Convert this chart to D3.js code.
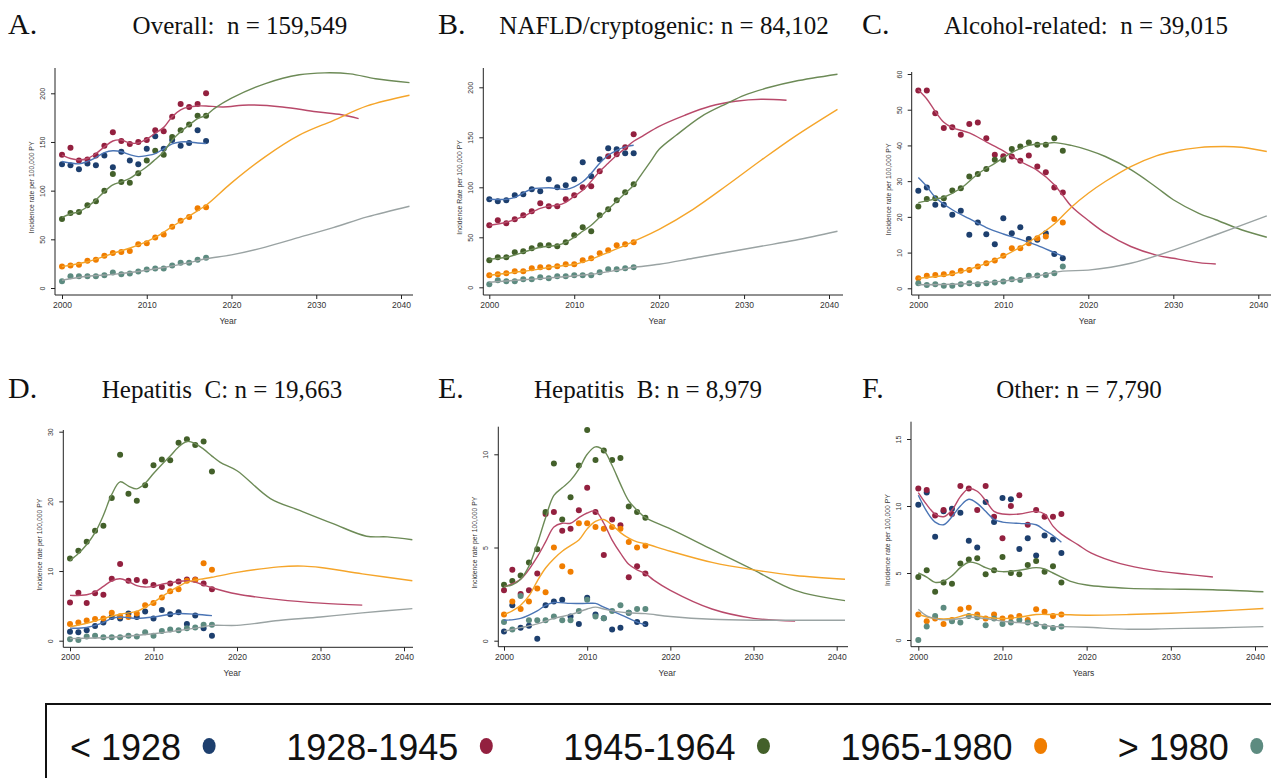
<!DOCTYPE html>
<html>
<head>
<meta charset="utf-8">
<script src="https://cdn.jsdelivr.net/npm/d3@7"></script>
<style>
  body { margin: 0; background: #fff; }
  svg { display: block; }
  .tick text { font-family: "Liberation Sans", Arial, sans-serif; fill: #333; }
</style>
</head>
<body>
<div id="chart"></div>
<script>
// Birth cohorts (legend) and their colours
var cohorts = ["< 1928", "1928-1945", "1945-1964", "1965-1980", "> 1980"];
var dotColors = ["#1d3f6e", "#93203f", "#43602a", "#f07d00", "#5d8b80"];
var lineColors = ["#4b75b5", "#b8496a", "#6c8a56", "#f5a52a", "#9aa3a3"];

// observed years for the dots
var obsYears = [2000, 2001, 2002, 2003, 2004, 2005, 2006, 2007, 2008, 2009,
                2010, 2011, 2012, 2013, 2014, 2015, 2016, 2017];
var xTickYears = [2000, 2010, 2020, 2030, 2040];

// ---- A. Overall ----
var overallObs = [
  [127, 126, 122, 128, 126, 136, 124, 140, 131, 127, 143, 156, 143, 152, 146, 149, 162, 151],
  [137, 144, 131, 132, 136, 146, 160, 151, 148, 150, 152, 162, 161, 176, 189, 186, 189, 200],
  [71, 77, 78, 85, 89, 100, 117, 109, 108, 118, 131, 141, 137, 155, 162, 168, 177, 177],
  [22, 23, 24, 28, 29, 33, 36, 37, 38, 45, 46, 52, 55, 63, 69, 73, 82, 83],
  [7, 12, 12, 12, 12, 13, 16, 14, 15, 17, 19, 20, 20, 23, 26, 26, 29, 31]
];
var overallFit = [
  [[2000,130],[2001,128.5],[2002,127.5],[2003,130],[2004,134],[2005,139],[2006,141],[2007,140],[2008,137],[2009,135],[2010,136],[2011,138],[2012,143],[2013,148],[2014,150],[2015,150],[2016,149],[2017,148.5]],
  [[2000,136.5],[2001,133],[2002,131.5],[2003,133],[2004,138],[2005,145],[2006,151],[2007,152],[2008,149],[2009,149],[2010,153],[2011,159],[2012,165],[2013,176],[2014,183],[2015,186],[2016,187],[2017,187],[2019,186],[2022,188],[2026,186],[2030,181],[2033,178],[2035,174]],
  [[2000,72.5],[2001,76],[2002,78.5],[2003,83.5],[2004,90.5],[2005,99],[2006,106],[2007,109],[2008,112.5],[2009,118.5],[2010,124.5],[2011,132],[2012,140],[2013,152],[2014,160.5],[2015,167.5],[2016,174],[2017,177.5],[2018,184.5],[2020,195],[2024,210],[2028,219],[2031,221],[2034,220],[2037,215],[2041,211]],
  [[2000,22],[2003,27],[2006,35.5],[2009,44],[2011,52],[2013,63],[2015,74],[2017,85],[2020,108],[2024,135],[2028,157],[2032,172],[2036,187],[2041,198]],
  [[2000,8],[2003,12],[2006,14],[2009,17],[2012,21],[2015,26],[2017,30],[2020,34],[2024,42],[2028,52],[2032,62],[2036,73],[2041,84]]
];

// ---- B. NAFLD/cryptogenic ----
var naflObs = [
  [88, 86, 87, 92, 93, 98, 96, 108, 100, 102, 108, 125, 111, 128, 139, 138, 134, 134],
  [62, 67, 64, 68, 72, 76, 84, 81, 81, 88, 92, 100, 101, 116, 131, 133, 140, 153],
  [27, 30, 30, 35, 36, 39, 42, 42, 41, 45, 52, 60, 56, 72, 78, 87, 95, 103],
  [12, 13, 14, 16, 16, 19, 20, 20, 21, 23, 23, 27, 29, 34, 37, 42, 43, 45],
  [3, 7, 6, 6, 8, 8, 10, 9, 11, 11, 12, 12, 12, 15, 18, 18, 19, 20]
];
var naflFit = [
  [[2000,88],[2002,88],[2003,90],[2005,98],[2007,99.5],[2009,98],[2010,100.5],[2011,105.5],[2012,114],[2013,124],[2014,132],[2015,137],[2016,140.5],[2017,142]],
  [[2000,62],[2002,65],[2004,71],[2006,79],[2007,81],[2008,82],[2009,85],[2010,91],[2011,97],[2012,106],[2013,116],[2014,124],[2015,132],[2016,139],[2017,146],[2018,151],[2020,161],[2023,172],[2026,181],[2029,186],[2032,188],[2035,187]],
  [[2000,28],[2002,30],[2004,35],[2006,40],[2008,42],[2009,45],[2010,50],[2011,56],[2012,62],[2013,70],[2014,78],[2015,86],[2016,94],[2017,102],[2018,114],[2019,126],[2020,138],[2022,152],[2025,171],[2028,184],[2030,192],[2033,200],[2036,206],[2041,213]],
  [[2000,12],[2004,16],[2008,21],[2010,23],[2012,28],[2014,35],[2016,42],[2017,46],[2020,58],[2024,78],[2028,102],[2032,127],[2036,151],[2041,178]],
  [[2000,5],[2004,7.5],[2008,10],[2012,13],[2015,17],[2017,20],[2020,23],[2024,29],[2028,35],[2032,41],[2036,47],[2041,56]]
];

// ---- C. Alcohol-related ----
var alcObs = [
  [27.3, 28.2, 23.4, 23.4, 20.6, 21.7, 15, 18.4, 15.1, 12.3, 19.6, 15.4, 17.1, 13.8, 13.6, 15.4, 9.6, 8.4],
  [55.4, 55.4, 49, 44.9, 45.1, 43, 46, 46.4, 42, 37.4, 37, 36.9, 35.7, 37.2, 34.1, 32.5, 28.2, 26.8],
  [22.9, 25, 25.2, 25.2, 27.4, 28, 31.3, 32, 33.4, 36, 36, 39, 39.7, 40.8, 40.2, 40.2, 42, 38.5],
  [2.8, 3.5, 3.7, 3.9, 4.2, 4.9, 5.1, 6.1, 7, 7.8, 9.1, 11.2, 11.2, 12.6, 14, 14.5, 19.4, 18.4],
  [1.4, 0.9, 1.1, 0.7, 0.7, 1.1, 1.4, 1.1, 1.4, 1.6, 1.9, 2.5, 2.3, 3.5, 3.6, 3.7, 4.2, 6.1]
];
var alcFit = [
  [[2000,31],[2001,28.5],[2002,25.5],[2004,22],[2006,19.5],[2008,17],[2010,15.2],[2012,13.7],[2014,12],[2016,10],[2017,9]],
  [[2000,55.5],[2001,53],[2002,49.5],[2003,46.5],[2004,45],[2006,43.5],[2008,41],[2010,38.5],[2012,35.5],[2014,33],[2016,29],[2017,26],[2018,23],[2020,19],[2022,15.5],[2025,11.7],[2028,9.3],[2030,8.4],[2033,7.2],[2035,6.8]],
  [[2000,24],[2002,25],[2003,25.5],[2005,28],[2007,32],[2009,35],[2011,38],[2013,40],[2015,40.5],[2016,40.8],[2018,40],[2020,38.7],[2022,36.9],[2025,33.2],[2028,28.3],[2030,24.8],[2033,21],[2035,19.2],[2038,16.4],[2041,14.3]],
  [[2000,2.8],[2004,4],[2008,7],[2010,9],[2012,11.5],[2014,14.5],[2016,18],[2018,22.7],[2020,26.6],[2022,29.9],[2025,34.1],[2028,37.1],[2030,38.3],[2033,39.4],[2036,39.7],[2038,39.5],[2041,38.3]],
  [[2000,1],[2005,1.2],[2010,2],[2013,3],[2017,4.8],[2020,5.1],[2025,7],[2030,10.7],[2035,15],[2041,20.3]]
];

// ---- D. Hepatitis C ----
var hcvObs = [
  [1.3, 1.2, 1.5, 2.1, 2.6, 3.4, 3.2, 3.9, 3.4, 4.2, 3.2, 4.4, 3.8, 4.1, 2.4, 3.6, 1.8, 0.7],
  [5.5, 6.9, 5.4, 6.8, 6.6, 8.9, 11, 8.6, 8.7, 8.5, 8, 7.7, 8.2, 8.5, 8.8, 8.8, 8.2, 7.4],
  [11.8, 12.9, 14.2, 15.8, 16.5, 20.5, 26.7, 21.1, 20.1, 22.3, 25.2, 26, 25.9, 28.4, 28.9, 28.1, 28.6, 24.3],
  [2.4, 2.6, 2.9, 3.1, 3.2, 4, 3.5, 3.4, 3.9, 5.1, 5.4, 6.2, 7.1, 7.4, 8.6, 8.7, 11.1, 10.2],
  [0.2, 0.1, 0.6, 0.7, 0.5, 0.5, 0.5, 0.7, 0.6, 1.2, 0.7, 1.4, 1.6, 1.5, 1.8, 1.9, 2.3, 2.3]
];
var hcvFit = [
  [[2000,1.8],[2002,1.9],[2004,2.6],[2005,3.2],[2006,3.4],[2007,3.3],[2008,3.2],[2010,3.4],[2012,3.8],[2013,3.9],[2015,3.8],[2017,3.6]],
  [[2000,6.5],[2002,6.6],[2003,7],[2004,7.8],[2005,8.6],[2006,8.9],[2007,8.5],[2008,7.9],[2009,7.7],[2010,7.8],[2011,8.1],[2012,8.3],[2013,8.5],[2014,8.6],[2015,8.4],[2016,8],[2017,7.6],[2020,6.7],[2025,5.9],[2030,5.4],[2035,5.1]],
  [[2000,11.5],[2001,12.5],[2002,13.8],[2003,15.5],[2004,18],[2005,21],[2006,22.8],[2007,22.2],[2008,21.8],[2009,22.6],[2010,24],[2011,25.3],[2012,26.5],[2013,27.8],[2014,28.6],[2015,28.3],[2016,27.5],[2017,26.5],[2018,25.6],[2020,24.4],[2024,20.4],[2027.5,18.7],[2031.5,16.8],[2035.5,15],[2038,14.9],[2041,14.5]],
  [[2000,2],[2002,2.5],[2004,3.2],[2006,3.8],[2008,4.2],[2009,4.8],[2010,5.5],[2011,6.3],[2012,7.1],[2013,7.8],[2014,8.4],[2015,8.7],[2016,8.9],[2017,9.1],[2020,9.8],[2025,10.6],[2028,10.7],[2030,10.5],[2035,9.6],[2041,8.6]],
  [[2000,0.3],[2005,0.5],[2010,1],[2015,1.8],[2017,2.2],[2020,2.2],[2025,2.9],[2030,3.4],[2035,4],[2041,4.6]]
];

// ---- E. Hepatitis B ----
var hbvObs = [
  [0.5, 1.9, 0.7, 0.8, 0.1, 1.9, 2.1, 2.2, 1.3, 0.9, 2.3, 1.4, 1.2, 0.6, 0.7, 1.5, 1.0, 0.9],
  [2.7, 3.8, 2.5, 2.7, 3.6, 6.8, 6.9, 5.9, 6.0, 7.0, 8.2, 6.9, 4.6, 6.5, 6.2, 3.4, 4.0, 3.6],
  [3.0, 3.2, 3.5, 4.2, 4.9, 6.9, 9.5, 6.5, 7.7, 9.4, 11.3, 9.7, 10.2, 9.7, 9.8, 7.2, 6.9, 6.6],
  [1.4, 2.1, 1.7, 2.1, 2.8, 2.6, 5.0, 4.0, 3.7, 6.3, 6.3, 6.1, 6.0, 6.1, 6.0, 5.3, 5.0, 5.1],
  [1.0, 0.6, 2.4, 1.1, 1.1, 1.1, 1.3, 1.1, 1.1, 1.6, 2.2, 1.3, 1.2, 1.6, 1.9, 1.5, 1.7, 1.7]
];
var hbvFit = [
  [[2000,1.1],[2002,1.2],[2004,1.6],[2005,1.9],[2006,2.05],[2008,2.0],[2010,2.0],[2011,2.0],[2012,1.8],[2013,1.6],[2014,1.4],[2015,1.2],[2016,1.0],[2017,0.85]],
  [[2000,2.9],[2002,3.3],[2004,4.5],[2005,5.3],[2006,6.1],[2007,6.3],[2008,6.3],[2009,6.6],[2010,6.85],[2011,6.95],[2012,6.3],[2013,5.4],[2014,4.7],[2015,4.1],[2016,3.8],[2017,3.6],[2018,3.25],[2020,2.7],[2025,1.7],[2030,1.2],[2035,1.05]],
  [[2000,2.9],[2001,3.0],[2002,3.3],[2003,4.0],[2004,5.2],[2005,6.6],[2006,7.8],[2007,8.2],[2008,8.6],[2009,9.2],[2010,10.0],[2011,10.4],[2012,10.2],[2013,9.4],[2014,8.4],[2015,7.5],[2016,7.0],[2017,6.6],[2020,6.0],[2025,4.9],[2030,3.8],[2035,2.7],[2041,2.15]],
  [[2000,1.4],[2001,1.6],[2002,1.9],[2003,2.4],[2004,3.2],[2005,3.9],[2006,4.4],[2007,4.8],[2008,5.1],[2009,5.4],[2010,6.0],[2011,6.4],[2012,6.5],[2013,6.2],[2014,5.8],[2015,5.5],[2016,5.3],[2017,5.2],[2020,4.8],[2025,4.2],[2030,3.8],[2035,3.5],[2041,3.3]],
  [[2000,0.5],[2002,0.7],[2004,0.9],[2006,1.2],[2008,1.4],[2010,1.7],[2011,1.8],[2012,1.7],[2013,1.6],[2015,1.5],[2017,1.45],[2020,1.3],[2025,1.15],[2030,1.1],[2041,1.1]]
];

// ---- F. Other ----
var otherObs = [
  [10.1, 11.0, 7.7, 9.6, 9.8, 9.5, 7.4, 6.9, 10.3, 8.8, 10.6, 10.5, 6.8, 7.6, 6.3, 7.8, 7.5, 6.5],
  [11.3, 11.2, 9.3, 9.7, 9.4, 11.5, 11.3, 9.7, 11.5, 9.2, 7.6, 10.0, 10.8, 8.6, 9.7, 9.2, 9.2, 9.4],
  [4.7, 5.2, 3.6, 4.3, 4.2, 5.7, 6.0, 6.1, 4.9, 5.2, 6.2, 5.0, 4.9, 5.6, 5.9, 5.1, 5.5, 4.3],
  [1.9, 1.4, 1.6, 1.2, 1.5, 2.3, 2.4, 1.9, 1.6, 1.9, 1.6, 1.7, 1.8, 1.5, 2.3, 2.1, 1.8, 1.9],
  [0.0, 1.0, 1.8, 2.4, 1.4, 1.3, 1.8, 1.7, 1.1, 1.6, 1.2, 1.3, 1.5, 1.3, 1.2, 1.0, 0.9, 1.0]
];
var otherFit = [
  [[2000,10.8],[2001,9.6],[2002,8.8],[2003,8.6],[2004,9.2],[2005,10.0],[2006,10.5],[2007,10.2],[2008,9.6],[2009,9.0],[2010,8.8],[2012,8.7],[2014,8.6],[2015,8.2],[2016,7.8],[2017,7.3]],
  [[2000,11.0],[2001,10.1],[2002,9.4],[2003,9.2],[2004,9.7],[2005,10.7],[2006,11.3],[2007,11.1],[2008,10.4],[2009,9.6],[2010,9.4],[2012,9.4],[2014,9.6],[2015,9.4],[2016,8.5],[2017,7.9],[2019,7.1],[2020.5,6.5],[2024,5.7],[2028,5.2],[2032,4.9],[2035,4.7]],
  [[2000,5.0],[2001,4.7],[2002,4.3],[2003,4.4],[2004,4.8],[2005,5.4],[2006,5.8],[2007,5.7],[2008,5.4],[2009,5.2],[2010,5.1],[2012,5.2],[2014,5.4],[2015,5.3],[2016,5.0],[2017,4.7],[2018,4.4],[2020,4.1],[2025,3.85],[2030,3.8],[2035,3.75],[2041,3.6]],
  [[2000,1.9],[2002,1.6],[2004,1.6],[2006,1.9],[2008,1.7],[2010,1.6],[2012,1.7],[2014,1.9],[2016,1.9],[2017,1.9],[2020,1.85],[2025,1.9],[2030,2.0],[2035,2.15],[2041,2.35]],
  [[2000,2.3],[2001,1.8],[2002,1.6],[2003,1.5],[2005,1.6],[2006,1.7],[2008,1.6],[2010,1.4],[2012,1.3],[2014,1.2],[2016,1.0],[2017,1.0],[2020,0.95],[2025,0.8],[2030,0.85],[2035,0.9],[2041,1.0]]
];

// Panel setup: titles, ticks, and where each plot sits on the page
var panels = [
  {letter: "A.", title: "Overall:  n = 159,549", obs: overallObs, fit: overallFit,
   yTicks: [0, 50, 100, 150, 200], yTitle: "Incidence rate per 100,000 PY", xTitle: "Year",
   letterX: 8, titleX: 240, titleY: 34,
   x0: 62, x40: 401, axisX: 55, axisRight: 413, axisTop: 68, axisBottom: 295, y0px: 288, yRefPx: 93.3},
  {letter: "B.", title: "NAFLD/cryptogenic: n = 84,102", obs: naflObs, fit: naflFit,
   yTicks: [0, 50, 100, 150, 200], yTitle: "Incidence Rate per 100,000 PY", xTitle: "Year",
   letterX: 438, titleX: 664, titleY: 34,
   x0: 489.3, x40: 829, axisX: 483.3, axisRight: 843, axisTop: 68, axisBottom: 295, y0px: 287.3, yRefPx: 87.3},
  {letter: "C.", title: "Alcohol-related:  n = 39,015", obs: alcObs, fit: alcFit,
   yTicks: [0, 10, 20, 30, 40, 50, 60], yTitle: "Incidence rate per 100,000 PY", xTitle: "Year",
   letterX: 862, titleX: 1086, titleY: 34,
   x0: 918.3, x40: 1258.3, axisX: 911.7, axisRight: 1275, axisTop: 72, axisBottom: 295, y0px: 288.3, yRefPx: 74},
  {letter: "D.", title: "Hepatitis  C: n = 19,663", obs: hcvObs, fit: hcvFit,
   yTicks: [0, 10, 20, 30], yTitle: "Incidence rate per 100,000 PY", xTitle: "Year",
   letterX: 8, titleX: 222, titleY: 398,
   x0: 70, x40: 404, axisX: 63.3, axisRight: 413, axisTop: 430, axisBottom: 647.3, y0px: 640.7, yRefPx: 431.7},
  {letter: "E.", title: "Hepatitis  B: n = 8,979", obs: hbvObs, fit: hbvFit,
   yTicks: [0, 5, 10], yTitle: "Incidence rate per 100,000 PY", xTitle: "Year",
   letterX: 438, titleX: 648, titleY: 398,
   x0: 504, x40: 836.7, axisX: 498.3, axisRight: 848, axisTop: 426.7, axisBottom: 646.7, y0px: 640.7, yRefPx: 454.3},
  {letter: "F.", title: "Other: n = 7,790", obs: otherObs, fit: otherFit,
   yTicks: [0, 5, 10, 15], yTitle: "Incidence rate per 100,000 PY", xTitle: "Years",
   letterX: 862, titleX: 1079, titleY: 398,
   x0: 918.3, x40: 1255, axisX: 911, axisRight: 1268, axisTop: 421.7, axisBottom: 646.7, y0px: 640, yRefPx: 439}
];

var svgWidth = 1271;
var svgHeight = 778;

var svg = d3.select("#chart")
  .append("svg")
  .attr("width", svgWidth)
  .attr("height", svgHeight);

svg.append("rect")
  .attr("width", svgWidth)
  .attr("height", svgHeight)
  .attr("fill", "#fff");

panels.forEach(function(p) {
  var g = svg.append("g");

  var xScale = d3.scaleLinear()
    .domain([2000, 2040])
    .range([p.x0, p.x40]);

  var yMax = p.yTicks[p.yTicks.length - 1];
  var yScale = d3.scaleLinear()
    .domain([0, yMax])
    .range([p.y0px, p.yRefPx]);

  // panel letter + title (serif, like the figure)
  g.append("text")
    .attr("x", p.letterX)
    .attr("y", p.titleY)
    .attr("font-family", "Liberation Serif, Times New Roman, serif")
    .attr("font-size", 30)
    .attr("fill", "#111")
    .text(p.letter);

  g.append("text")
    .attr("x", p.titleX)
    .attr("y", p.titleY)
    .attr("text-anchor", "middle")
    .attr("font-family", "Liberation Serif, Times New Roman, serif")
    .attr("font-size", 25)
    .attr("fill", "#111")
    .style("white-space", "pre")
    .text(p.title);

  // axis lines
  g.append("line")
    .attr("x1", p.axisX).attr("x2", p.axisX)
    .attr("y1", p.axisTop).attr("y2", p.axisBottom)
    .attr("stroke", "#222").attr("stroke-width", 1);
  g.append("line")
    .attr("x1", p.axisX).attr("x2", p.axisRight)
    .attr("y1", p.axisBottom).attr("y2", p.axisBottom)
    .attr("stroke", "#222").attr("stroke-width", 1);

  // bottom axis
  var bottomAxis = d3.axisBottom(xScale)
    .tickValues(xTickYears)
    .tickFormat(d3.format("d"))
    .tickSize(4)
    .tickPadding(3);
  var xAxisG = g.append("g")
    .attr("transform", `translate(0, ${p.axisBottom})`)
    .call(bottomAxis);
  xAxisG.select(".domain").remove();
  xAxisG.selectAll(".tick line").attr("stroke", "#222");
  xAxisG.selectAll(".tick text").attr("font-size", 8.5);

  // left axis, labels turned sideways
  var leftAxis = d3.axisLeft(yScale)
    .tickValues(p.yTicks)
    .tickSize(4);
  var yAxisG = g.append("g")
    .attr("transform", `translate(${p.axisX}, 0)`)
    .call(leftAxis);
  yAxisG.select(".domain").remove();
  yAxisG.selectAll(".tick line").attr("stroke", "#222");
  yAxisG.selectAll(".tick text")
    .attr("x", null)
    .attr("dy", null)
    .attr("text-anchor", "middle")
    .attr("transform", "translate(-10, 0) rotate(-90)")
    .attr("font-size", 7);

  // axis titles
  g.append("text")
    .attr("x", (p.axisX + p.axisRight) / 2 - 6)
    .attr("y", p.axisBottom + 29)
    .attr("text-anchor", "middle")
    .attr("font-family", "Liberation Sans, Arial, sans-serif")
    .attr("font-size", 8.5)
    .attr("fill", "#333")
    .text(p.xTitle);

  g.append("text")
    .attr("transform", `translate(${p.axisX - 21}, ${(p.axisTop + p.axisBottom) / 2 + 6}) rotate(-90)`)
    .attr("text-anchor", "middle")
    .attr("font-family", "Liberation Sans, Arial, sans-serif")
    .attr("font-size", 6.8)
    .attr("fill", "#333")
    .text(p.yTitle);

  // observed points
  p.obs.forEach(function(series, i) {
    g.selectAll(null)
      .data(series)
      .enter()
      .append("circle")
      .attr("cx", (d, j) => xScale(obsYears[j]))
      .attr("cy", d => yScale(d))
      .attr("r", 3)
      .attr("fill", dotColors[i]);
  });

  // smoothed / projected lines
  var line = d3.line()
    .x(d => xScale(d[0]))
    .y(d => yScale(d[1]))
    .curve(d3.curveCatmullRom.alpha(0.5));

  p.fit.forEach(function(series, i) {
    g.append("path")
      .datum(series)
      .attr("d", line)
      .attr("fill", "none")
      .attr("stroke", lineColors[i])
      .attr("stroke-width", 1.4)
      .attr("stroke-linejoin", "round");
  });
});

// Legend box along the bottom
var legend = svg.append("g");
legend.append("rect")
  .attr("x", 46)
  .attr("y", 704)
  .attr("width", 1260)
  .attr("height", 100)
  .attr("fill", "none")
  .attr("stroke", "#111")
  .attr("stroke-width", 2);

var legendX = 70;
cohorts.forEach(function(name, i) {
  var t = legend.append("text")
    .attr("x", legendX)
    .attr("y", 760)
    .attr("font-family", "Liberation Sans, Arial, sans-serif")
    .attr("font-size", 36)
    .attr("fill", "#111")
    .text(name);
  var w = t.node().getComputedTextLength();
  var dotX = legendX + w + 28;
  legend.append("ellipse")
    .attr("cx", dotX)
    .attr("cy", 746)
    .attr("rx", 6.5)
    .attr("ry", 8)
    .attr("fill", dotColors[i]);
  legendX = dotX + 77;
});
</script>
</body>
</html>
